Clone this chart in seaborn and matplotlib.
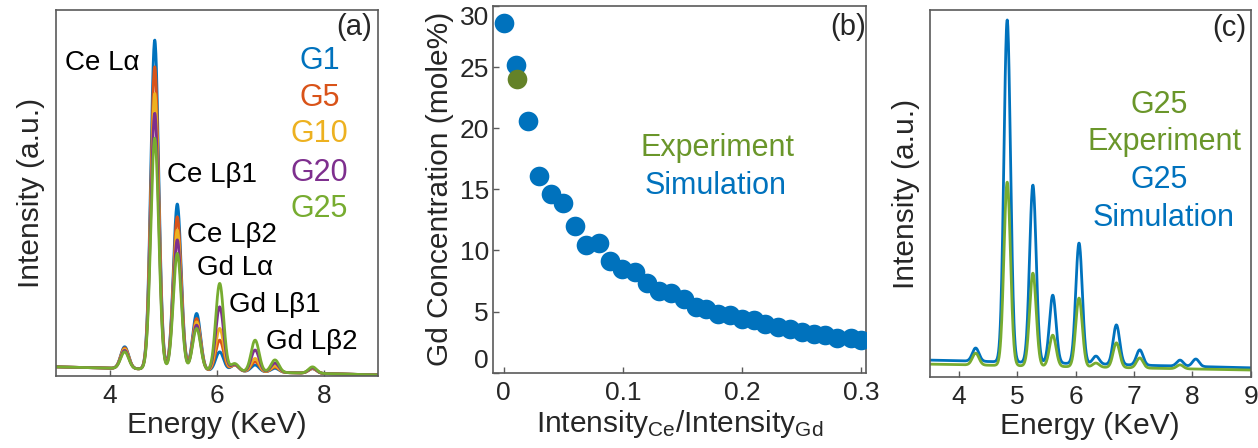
import numpy as np
import pandas as pd
import matplotlib
matplotlib.use("Agg")
import matplotlib.pyplot as plt
import seaborn as sns

# ---------------- (a) EDS spectra of the Gd-doped samples ----------------
line_energy_a = [4.28, 4.84, 5.26, 5.62, 6.05, 6.33, 6.71, 7.08, 7.78]
samples = ["G1", "G5", "G10", "G20", "G25"]
peak_G1 = [0.080, 0.918, 0.470, 0.171, 0.066, 0.030, 0.030, 0.021, 0.020]
peak_G5 = [0.077, 0.845, 0.435, 0.157, 0.098, 0.030, 0.039, 0.024, 0.020]
peak_G10 = [0.074, 0.772, 0.399, 0.148, 0.130, 0.031, 0.048, 0.027, 0.021]
peak_G20 = [0.070, 0.718, 0.372, 0.139, 0.189, 0.032, 0.071, 0.035, 0.022]
peak_G25 = [0.066, 0.650, 0.335, 0.130, 0.253, 0.034, 0.098, 0.044, 0.025]
base_energy_a = [3.0, 9.0]
base_level_a = [0.025, 0.003]
line_labels = ["Ce Lα", "Ce Lβ1", "Ce Lβ2", "Gd Lα", "Gd Lβ1", "Gd Lβ2"]

# ---------------- (b) Gd concentration vs. Ce/Gd intensity ratio ----------------
ratio_sim = [0.000, 0.010, 0.020, 0.030, 0.040, 0.050, 0.060, 0.069, 0.080, 0.089,
             0.099, 0.110, 0.120, 0.130, 0.140, 0.151, 0.161, 0.170, 0.180, 0.190,
             0.200, 0.210, 0.219, 0.230, 0.240, 0.250, 0.260, 0.270, 0.280, 0.291, 0.300]
gd_sim = [28.6, 25.2, 20.6, 16.1, 14.6, 13.9, 12.0, 10.45, 10.6, 9.1,
          8.5, 8.2, 7.3, 6.7, 6.5, 6.06, 5.4, 5.25, 4.84, 4.7,
          4.43, 4.3, 4.0, 3.75, 3.6, 3.35, 3.2, 3.07, 2.8, 2.8, 2.66]
ratio_exp = [0.011]
gd_exp = [24.0]

# ---------------- (c) G25: experiment vs. simulation ----------------
line_energy_c = [4.29, 4.83, 5.27, 5.61, 6.06, 6.35, 6.70, 7.10, 7.79, 8.06]
peak_sim = [0.079, 0.973, 0.523, 0.223, 0.365, 0.057, 0.142, 0.074, 0.046, 0.049]
peak_exp = [0.065, 0.531, 0.283, 0.114, 0.215, 0.038, 0.093, 0.052, 0.033, 0.021]
base_energy_c = [3.5, 9.0]
base_sim = [0.046, 0.025]
base_exp = [0.035, 0.019]

# colours
C_BLUE = "#0072BD"
C_ORANGE = "#D95319"
C_YELLOW = "#EDB120"
C_PURPLE = "#7E2F8E"
C_GREEN = "#77AC30"
C_OLIVE = "#6A962A"
C_OLIVE_DOT = "#648228"
SPINE = "#5a5a5a"

sns.set_theme(style="ticks")
plt.rcParams["font.family"] = ["Liberation Sans", "DejaVu Sans"]
plt.rcParams["mathtext.fontset"] = "custom"
plt.rcParams["mathtext.rm"] = "Liberation Sans"
plt.rcParams["mathtext.it"] = "Liberation Sans:italic"

FS_TICK = 19
FS_LABEL = 21.5
FS_TEXT = 21


def spectrum(energy, centers, heights, base_x, base_y, sigma):
    """Sum of Gaussian lines sitting on a linear background."""
    background = np.interp(energy, base_x, base_y)
    y = background.copy()
    for c, h in zip(centers, heights):
        amp = max(h - np.interp(c, base_x, base_y), 0.0)
        y += amp * np.exp(-0.5 * ((energy - c) / sigma) ** 2)
    return y


def style_axes(ax):
    for s in ax.spines.values():
        s.set_visible(True)
        s.set_color(SPINE)
        s.set_linewidth(1.2)
    ax.tick_params(direction="in", length=4, width=1, color=SPINE,
                   labelsize=FS_TICK, pad=6, top=False, right=False)


fig = plt.figure(figsize=(12.58, 4.48), dpi=100)
ax_a = fig.add_axes([0.0445, 0.1607, 0.2560, 0.8170])
ax_b = fig.add_axes([0.3919, 0.1681, 0.2965, 0.8185])
ax_c = fig.add_axes([0.7389, 0.1585, 0.2553, 0.8192])

# ---- panel (a)
energy_a = np.linspace(3.0, 9.0, 1200)
series_a = {"G1": peak_G1, "G5": peak_G5, "G10": peak_G10,
            "G20": peak_G20, "G25": peak_G25}
frames = []
for name in samples:
    frames.append(pd.DataFrame({
        "Energy": energy_a,
        "Intensity": spectrum(energy_a, line_energy_a, series_a[name],
                              base_energy_a, base_level_a, 0.074),
        "Sample": name,
    }))
df_a = pd.concat(frames, ignore_index=True)
palette_a = dict(zip(samples, [C_BLUE, C_ORANGE, C_YELLOW, C_PURPLE, C_GREEN]))
sns.lineplot(data=df_a, x="Energy", y="Intensity", hue="Sample", hue_order=samples,
             palette=palette_a, linewidth=2.0, legend=False, ax=ax_a)
ax_a.set_xlim(3, 9)
ax_a.set_ylim(0, 1)
ax_a.set_xticks([4, 6, 8])
ax_a.set_yticks([])
ax_a.set_xlabel("Energy (KeV)", fontsize=FS_LABEL, labelpad=2)
ax_a.set_ylabel("Intensity (a.u.)", fontsize=FS_LABEL, labelpad=8)
style_axes(ax_a)

label_pos_a = [(3.16, 0.855), (5.06, 0.549), (5.45, 0.385),
               (5.62, 0.295), (6.23, 0.194), (6.92, 0.093)]
for txt, (x, y) in zip(line_labels, label_pos_a):
    ax_a.text(x, y, txt, fontsize=FS_TEXT - 1, ha="left", va="center", color="black")
for name, y in zip(samples, [0.862, 0.759, 0.662, 0.555, 0.457]):
    ax_a.text(7.91, y, name, fontsize=FS_TEXT + 1, ha="center", va="center",
              color=palette_a[name])
ax_a.text(8.56, 0.954, "(a)", fontsize=FS_TEXT, ha="center", va="center")

# ---- panel (b)
sns.scatterplot(x=ratio_sim, y=gd_sim, color=C_BLUE, s=200, linewidth=0,
                ax=ax_b, zorder=3)
sns.scatterplot(x=ratio_exp, y=gd_exp, color=C_OLIVE_DOT, s=200, linewidth=0,
                ax=ax_b, zorder=4)
ax_b.set_xlim(-0.009, 0.304)
ax_b.set_ylim(0, 30)
ax_b.set_xticks([0, 0.1, 0.2, 0.3])
ax_b.set_xticklabels(["0", "0.1", "0.2", "0.3"])
ax_b.set_yticks([0, 5, 10, 15, 20, 25, 30])
ax_b.set_yticklabels(["0", "5", "10", "15", "20", "25", "30"])
ax_b.set_xlabel("Intensity$_{\\mathrm{Ce}}$/Intensity$_{\\mathrm{Gd}}$",
                fontsize=FS_LABEL, labelpad=2)
ax_b.set_ylabel("Gd Concentration (mole%)", fontsize=FS_LABEL, labelpad=4)
style_axes(ax_b)
ax_b.tick_params(axis="y", pad=3)
yl = ax_b.get_yticklabels()
yl[0].set_verticalalignment("bottom")
yl[-1].set_verticalalignment("top")
ax_b.text(0.179, 18.4, "Experiment", fontsize=FS_TEXT + 1, ha="center", va="center",
          color=C_OLIVE)
ax_b.text(0.178, 15.3, "Simulation", fontsize=FS_TEXT + 1, ha="center", va="center",
          color=C_BLUE)
ax_b.text(0.289, 28.3, "(b)", fontsize=FS_TEXT, ha="center", va="center")

# ---- panel (c)
energy_c = np.linspace(3.5, 9.0, 1100)
df_c = pd.concat([
    pd.DataFrame({"Energy": energy_c,
                  "Intensity": spectrum(energy_c, line_energy_c, peak_sim,
                                        base_energy_c, base_sim, 0.056),
                  "Kind": "Simulation"}),
    pd.DataFrame({"Energy": energy_c,
                  "Intensity": spectrum(energy_c, line_energy_c, peak_exp,
                                        base_energy_c, base_exp, 0.056),
                  "Kind": "Experiment"}),
], ignore_index=True)
sns.lineplot(data=df_c, x="Energy", y="Intensity", hue="Kind",
             hue_order=["Simulation", "Experiment"],
             palette={"Simulation": C_BLUE, "Experiment": C_GREEN},
             linewidth=2.0, legend=False, ax=ax_c)
ax_c.set_xlim(3.5, 9)
ax_c.set_ylim(0, 1)
ax_c.set_xticks([4, 5, 6, 7, 8, 9])
ax_c.set_yticks([])
ax_c.set_xlabel("Energy (KeV)", fontsize=FS_LABEL, labelpad=2)
ax_c.set_ylabel("Intensity (a.u.)", fontsize=FS_LABEL, labelpad=7)
style_axes(ax_c)
ax_c.text(7.44, 0.741, "G25", fontsize=FS_TEXT + 1, ha="center", va="center", color=C_OLIVE)
ax_c.text(7.53, 0.640, "Experiment", fontsize=FS_TEXT + 1, ha="center", va="center",
          color=C_OLIVE)
ax_c.text(7.44, 0.537, "G25", fontsize=FS_TEXT + 1, ha="center", va="center", color=C_BLUE)
ax_c.text(7.51, 0.433, "Simulation", fontsize=FS_TEXT + 1, ha="center", va="center",
          color=C_BLUE)
ax_c.text(8.63, 0.951, "(c)", fontsize=FS_TEXT, ha="center", va="center")

fig.savefig("out.png", dpi=100)
